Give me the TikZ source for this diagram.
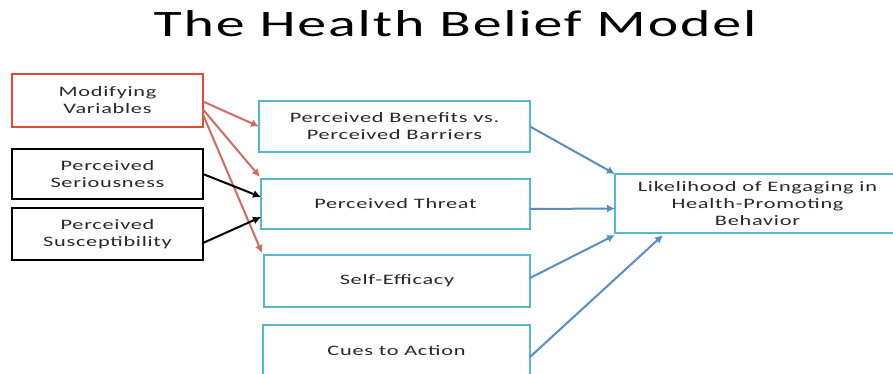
\documentclass[tikz,border=0pt]{standalone}
\usepackage{fontspec}
\usetikzlibrary{calc,arrows.meta}
\newfontfamily\hbmfont[FakeStretch=1.55,LetterSpace=5]{Carlito}
\definecolor{hbmRouge}{RGB}{226,74,50}
\definecolor{hbmRougeFleche}{RGB}{208,108,98}
\definecolor{hbmCyan}{RGB}{88,182,208}
\definecolor{hbmBleu}{RGB}{88,140,196}
\definecolor{hbmTexte}{RGB}{40,40,40}

\begin{document}
\begin{tikzpicture}[
  x=0.75pt, y=-0.75pt,
  every node/.style={font=\hbmfont\fontsize{10.8}{12.8}\selectfont, text=hbmTexte},
  boite/.style={draw, line width=1.5pt, align=center, inner sep=0pt, outer sep=0pt, fill=white},
  modif/.style={boite, draw=hbmRouge, minimum width=143.25pt},
  perc/.style={boite, draw=black, minimum width=143.25pt},
  facteur/.style={boite, draw=hbmCyan},
  fl/.style={-{Latex[length=6pt,width=6pt]}, line width=1.5pt},
  titre/.style={font=\hbmfont\fontsize{28}{30}\selectfont, text=black}
]
\useasboundingbox (0,0) rectangle (893,374);
\clip (0,0) rectangle (893,374);

\node[titre] (ttl) at (455,24) {The Health Belief Model};

% ---- colonne de gauche : variables et perceptions ----
\node[modif, minimum height=39.75pt] (modvar)  at (107.5,100.5) {Modifying\\Variables};
\node[perc,  minimum height=37.5pt]  (serious) at (107.5,174)   {Perceived\\Seriousness};
\node[perc,  minimum height=39pt]    (suscep)  at (107.5,234)   {Perceived\\Susceptibility};

% ---- colonne du milieu : les quatre facteurs ----
\node[facteur, minimum width=203.25pt, minimum height=38.25pt] (benef)   at (394.5,126.5) {Perceived Benefits vs.\\Perceived Barriers};
\node[facteur, minimum width=201.75pt, minimum height=37.5pt]  (threat)  at (395.5,204)   {Perceived Threat};
\node[facteur, minimum width=199.5pt,  minimum height=39pt]    (selfeff) at (397,281)     {Self-Efficacy};
\node[facteur, minimum width=200.25pt, minimum height=39pt]    (cues)    at (396.5,351)   {Cues to Action};

% ---- a droite : le comportement ----
\node[facteur, minimum width=213.75pt, minimum height=44.25pt] (likely) at (757.5,203.5)
     {Likelihood of Engaging in\\Health-Promoting\\Behavior};

% ---- fleches ----
\draw[fl, hbmRougeFleche] ($(modvar.east)+(0,1)$)  -- (benef.west);
\draw[fl, hbmRougeFleche] ($(modvar.east)+(0,9)$)  -- ($(threat.north west)+(-1,-2)$);
\draw[fl, hbmRougeFleche] ($(modvar.east)+(0,14)$) -- ($(selfeff.north west)+(-2,-2)$);

\draw[fl, black] (serious.east) -- ($(threat.west)+(0,-7)$);
\draw[fl, black] ($(suscep.east)+(0,9)$) -- ($(threat.west)+(0,13)$);

\draw[fl, hbmBleu] (benef.east) -- (likely.north west);
\draw[fl, hbmBleu] ($(threat.east)+(0,5)$) -- ($(likely.west)+(0,5)$);
\draw[fl, hbmBleu] ($(selfeff.east)+(0,-3)$) -- ($(likely.south west)+(0,2)$);
\draw[fl, hbmBleu] ($(cues.east)+(0,6)$) -- ($(likely.south west)+(48,2)$);

\end{tikzpicture}
\end{document}
